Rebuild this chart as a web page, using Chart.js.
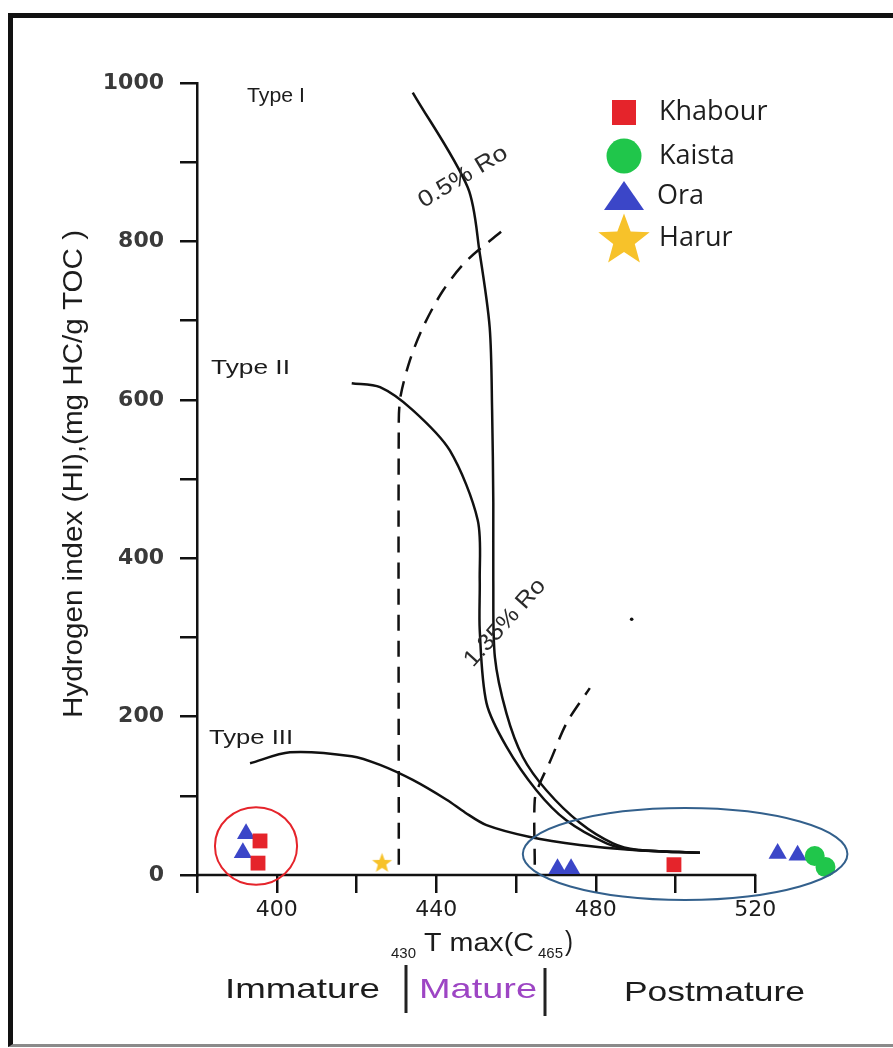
<!DOCTYPE html>
<html>
<head>
<meta charset="utf-8">
<script src="https://cdn.jsdelivr.net/npm/chart.js@4.4.1/dist/chart.umd.min.js"></script>
<style>
  html, body { margin: 0; padding: 0; background: #fff; }
  #wrap { position: relative; width: 893px; height: 1048px; overflow: hidden; }
  #frame { position: absolute; left: 8px; top: 13px; width: 900px; height: 1026px;
           border-left: 5px solid #111; border-top: 5px solid #111; border-bottom: 3px solid #8a8a8a; }
  #chart { position: absolute; left: 0; top: 0; }
</style>
</head>
<body>
<div id="wrap">
  <div id="frame"></div>
  <canvas id="chart" width="893" height="1048"></canvas>
</div>
<script>
// axis ticks
const xTicks = [380, 400, 420, 440, 460, 480, 500, 520];
const xLabelTicks = [400, 440, 480, 520];
const yLabelStep = 200;

// samples (Tmax, HI)
const seriesNames = ['Khabour', 'Kaista', 'Ora', 'Harur'];
const khabourT = [395.8, 395.3, 499.6];
const khabourHI = [43, 15, 13];
const kaistaT = [534.9, 537.6];
const kaistaHI = [24, 10];
const oraT = [392.3, 391.5, 470.4, 473.8, 525.6, 530.6];
const oraHI = [52, 28, 8, 8, 27, 25];
const harurT = [426.4];
const harurHI = [16];

// kerogen type curves
const type1T = [434.1, 447.9, 450.9, 453.4, 454.0, 454.3, 454.3, 454.7, 457.6, 461.7, 467.6, 476.0, 484.3, 490.3, 506.1];
const type1HI = [988, 868, 785, 691, 587, 470, 372, 275, 204, 149, 107, 66, 40, 32, 28];
const type2T = [418.8, 425.9, 434.1, 443.4, 450.4, 450.9, 450.9, 452.6, 457.6, 465.1, 472.6, 482.7, 489.3, 506.1];
const type2HI = [621, 616, 587, 536, 448, 372, 309, 217, 162, 107, 69, 40, 32, 28];
const type3T = [393.3, 403.3, 418.8, 425.9, 434.1, 442.6, 447.2, 452.6, 463.5, 476.0, 488.5, 506.1];
const type3HI = [141, 155, 150, 139, 120, 95, 79, 63, 48, 38, 32, 28];

// iso-reflectance lines (0.5 % and 1.35 % Ro)
const ro05T = [430.6, 430.6, 431.1, 433.4, 436.6, 441.7, 447.7, 457.2];
const ro05HI = [13, 574, 606, 650, 691, 738, 776, 816];
const ro135T = [464.7, 464.7, 466.0, 468.5, 472.7, 478.5];
const ro135HI = [13, 95, 116, 143, 192, 236];
const ro135DotT = [489];
const ro135DotHI = [323];

// groups circled on the plot
const groupT = [394.8, 502.4];
const groupHI = [36.6, 26.5];
const groupHalfT = [10.3, 40.7];
const groupHalfHI = [49, 58];

const RED = '#e5242b', GREEN = '#20c64b', BLUE = '#3b46c8', GOLD = '#f7c22a';

function pts(xs, ys) {
    return xs.map((x, i) => ({ x: x, y: ys[i] }));
}

function makeStar(size, color) {
    const c = document.createElement('canvas');
    c.width = size; c.height = size;
    const g = c.getContext('2d');
    const R = size / 2 - 1, r = R * 0.42;
    const cx = size / 2, cy = size / 2 + R * 0.095;
    g.beginPath();
    for (let i = 0; i < 10; i++) {
        const a = -Math.PI / 2 + i * Math.PI / 5;
        const rr = i % 2 === 0 ? R : r;
        g.lineTo(cx + rr * Math.cos(a), cy + rr * Math.sin(a));
    }
    g.closePath();
    g.fillStyle = color;
    g.fill();
    return c;
}

const starSmall = makeStar(23, GOLD);
const starBig = makeStar(56, GOLD);

function drawText(ctx, o) {
    ctx.save();
    ctx.translate(o.x, o.y);
    if (o.angle) ctx.rotate(o.angle * Math.PI / 180);
    ctx.font = (o.weight || '') + ' ' + o.size + 'px ' + (o.family || '"Liberation Sans", Arial, sans-serif');
    const m = ctx.measureText(o.text).width;
    if (o.width) ctx.scale(o.width / m, 1);
    ctx.fillStyle = o.color || '#1c1c1c';
    ctx.textAlign = o.align || 'left';
    ctx.textBaseline = 'middle';
    ctx.fillText(o.text, 0, 0);
    ctx.restore();
}

function curve(data, dash) {
    return {
        data: data, showLine: true, borderColor: '#111', borderWidth: 2.5,
        borderDash: dash || [], pointRadius: 0, tension: 0.3, fill: false
    };
}

const xAxisLine = {
    id: 'xAxisLine',
    beforeDatasetsDraw(chart) {
        const ctx = chart.ctx, x = chart.scales.x, a = chart.chartArea;
        ctx.save();
        ctx.strokeStyle = '#111';
        ctx.lineWidth = 2.5;
        ctx.beginPath();
        ctx.moveTo(x.getPixelForValue(xTicks[0]) - 1, a.bottom);
        ctx.lineTo(x.getPixelForValue(xTicks[xTicks.length - 1]) + 1, a.bottom);
        ctx.stroke();
        ctx.restore();
    }
};

const groupRings = {
    id: 'groupRings',
    afterDatasetsDraw(chart) {
        const ctx = chart.ctx, x = chart.scales.x, y = chart.scales.y;
        const colors = [RED, '#33608c'];
        ctx.save();
        ctx.lineWidth = 2;
        groupT.forEach((t, i) => {
            const cx = x.getPixelForValue(t), cy = y.getPixelForValue(groupHI[i]);
            const rx = x.getPixelForValue(t + groupHalfT[i]) - cx;
            const ry = cy - y.getPixelForValue(groupHI[i] + groupHalfHI[i]);
            ctx.strokeStyle = colors[i];
            ctx.beginPath();
            ctx.ellipse(cx, cy, rx, ry, 0, 0, Math.PI * 2);
            ctx.stroke();
        });
        ctx.restore();
    }
};

const labels = {
    id: 'labels',
    afterDraw(chart) {
        const ctx = chart.ctx;
        // curve names and Ro labels
        drawText(ctx, { text: 'Type I', x: 247, y: 96, size: 20, width: 58 });
        drawText(ctx, { text: 'Type II', x: 211, y: 368, size: 20, width: 79 });
        drawText(ctx, { text: 'Type III', x: 209, y: 738, size: 20, width: 84 });
        drawText(ctx, { text: '0.5% Ro', x: 463, y: 177, size: 23, width: 100, angle: -31, align: 'center', color: '#2a2a2a' });
        drawText(ctx, { text: '1.35% Ro', x: 505, y: 623, size: 23, width: 110, angle: -48, align: 'center', color: '#2a2a2a' });

        // y title
        drawText(ctx, { text: 'Hydrogen index (HI),(mg HC/g TOC )', x: 75, y: 474, size: 27, width: 488, angle: -90, align: 'center' });

        // x title with subscripts
        drawText(ctx, { text: '430', x: 391, y: 954, size: 15, width: 25 });
        drawText(ctx, { text: 'T max(C', x: 424, y: 944, size: 25, width: 110 });
        drawText(ctx, { text: '465', x: 538, y: 954, size: 15, width: 25 });
        drawText(ctx, { text: ')', x: 565, y: 943, size: 27, width: 8 });

        // maturity zones
        drawText(ctx, { text: 'Immature', x: 225, y: 990, size: 28, width: 155 });
        drawText(ctx, { text: 'Mature', x: 419, y: 990, size: 28, width: 118, color: '#9d45c4' });
        drawText(ctx, { text: 'Postmature', x: 624, y: 993, size: 28, width: 181 });
        ctx.save();
        ctx.strokeStyle = '#222';
        ctx.lineWidth = 3;
        ctx.beginPath();
        ctx.moveTo(406, 965); ctx.lineTo(406, 1013);
        ctx.moveTo(545, 968); ctx.lineTo(545, 1016);
        ctx.stroke();

        // legend
        const sx = 624, rows = [112, 156, 196, 238];
        ctx.fillStyle = RED;
        ctx.fillRect(sx - 12, rows[0] - 12, 24, 25);
        ctx.fillStyle = GREEN;
        ctx.beginPath(); ctx.arc(sx, rows[1], 17.5, 0, Math.PI * 2); ctx.fill();
        ctx.fillStyle = BLUE;
        ctx.beginPath();
        ctx.moveTo(sx - 20, rows[2] + 14); ctx.lineTo(sx + 20, rows[2] + 14); ctx.lineTo(sx, rows[2] - 15);
        ctx.closePath(); ctx.fill();
        ctx.drawImage(starBig, sx - 28, rows[3] - 28);
        ctx.restore();
        const tx = [659, 659, 657, 659];
        seriesNames.forEach((n, i) => {
            drawText(ctx, { text: n, x: tx[i], y: rows[i], size: 27, family: '"Open Sans", sans-serif', color: '#1e1e1e' });
        });
    }
};

const ctx = document.getElementById('chart').getContext('2d');
new Chart(ctx, {
    type: 'scatter',
    data: {
        datasets: [
            { label: 'Khabour', data: pts(khabourT, khabourHI), pointStyle: 'rect', pointRadius: 10.5, backgroundColor: RED, borderWidth: 0, clip: false },
            { label: 'Kaista', data: pts(kaistaT, kaistaHI), pointStyle: 'circle', pointRadius: 10, backgroundColor: GREEN, borderWidth: 0, clip: false },
            { label: 'Ora', data: pts(oraT, oraHI), pointStyle: 'triangle', pointRadius: 10.5, backgroundColor: BLUE, borderWidth: 0, clip: false },
            { label: 'Harur', data: pts(harurT, harurHI), pointStyle: starSmall, pointRadius: 11, clip: false },
            { data: pts(ro135DotT, ro135DotHI), pointRadius: 1.8, backgroundColor: '#111', borderWidth: 0 },
            curve(pts(type1T, type1HI)),
            curve(pts(type2T, type2HI)),
            curve(pts(type3T, type3HI)),
            curve(pts(ro05T, ro05HI), [16, 10]),
            curve(pts(ro135T, ro135HI), [16, 10])
        ]
    },
    options: {
        responsive: false,
        devicePixelRatio: 1,
        animation: false,
        layout: { padding: { left: 0, top: 83, right: 38, bottom: 0 } },
        plugins: { legend: { display: false }, tooltip: { enabled: false } },
        scales: {
            x: {
                type: 'linear', min: 380, max: 545,
                afterBuildTicks: (axis) => { axis.ticks = xTicks.map(v => ({ value: v })); },
                afterFit: (axis) => { axis.height = 173; },
                border: { display: false },
                grid: { drawOnChartArea: false, drawTicks: true, tickLength: 18, color: '#111', lineWidth: 2.5 },
                ticks: {
                    autoSkip: false, maxRotation: 0, padding: 4, color: '#1c1c1c',
                    font: { family: '"DejaVu Sans", sans-serif', size: 22 },
                    callback: (v) => xLabelTicks.includes(v) ? String(v) : ''
                }
            },
            y: {
                type: 'linear', min: 0, max: 1000,
                afterFit: (axis) => { axis.width = 197; },
                border: { display: true, color: '#111', width: 2.5 },
                grid: { drawOnChartArea: false, drawTicks: true, tickLength: 17, color: '#111', lineWidth: 2.5 },
                ticks: {
                    stepSize: 100, autoSkip: false, padding: 16, color: '#3a3a3a',
                    font: { family: '"DejaVu Sans", sans-serif', size: 22, weight: 'bold' },
                    callback: (v) => v % yLabelStep === 0 ? String(v) : ''
                }
            }
        }
    },
    plugins: [xAxisLine, groupRings, labels]
});
</script>
</body>
</html>
